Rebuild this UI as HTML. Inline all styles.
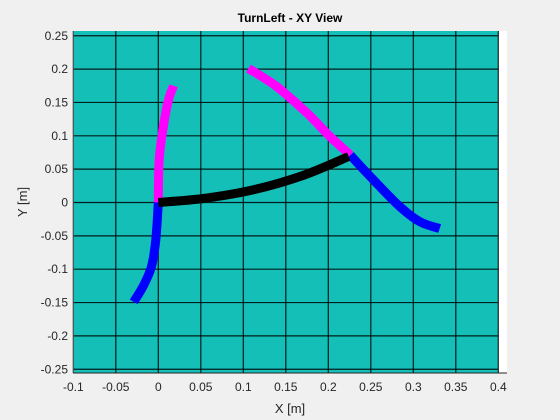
<!DOCTYPE html>
<html><head><meta charset="utf-8"><style>
body{margin:0;background:#f0f0f0;}
svg{display:block;font-family:"Liberation Sans",Arial,sans-serif;}
</style></head><body>
<svg id="chart" width="560" height="420">
<rect x="73" y="31" width="434" height="342" fill="#ffffff"/>
<rect x="73" y="31" width="425" height="342" fill="#14bfb8"/>
<g id="grid"></g>
<g id="series"></g>
<g id="ticks"></g>
<text x="290" y="22" text-anchor="middle" font-size="12" font-weight="bold" fill="#000">TurnLeft - XY View</text>
<text x="290" y="413" text-anchor="middle" font-size="13" fill="#262626">X [m]</text>
<text transform="translate(27,202) rotate(-90)" text-anchor="middle" font-size="13" fill="#262626">Y [m]</text>
</svg>
<script>
const xTicks=[-0.1,-0.05,0,0.05,0.1,0.15,0.2,0.25,0.3,0.35,0.4];
const xTickLabels=["-0.1","-0.05","0","0.05","0.1","0.15","0.2","0.25","0.3","0.35","0.4"];
const yTicks=[-0.25,-0.2,-0.15,-0.1,-0.05,0,0.05,0.1,0.15,0.2,0.25];
const yTickLabels=["-0.25","-0.2","-0.15","-0.1","-0.05","0","0.05","0.1","0.15","0.2","0.25"];
const leftUpX=[0,0.001,0.006,0.012,0.018];
const leftUpY=[0,0.064,0.114,0.154,0.175];
const leftDownX=[0,-0.003,-0.008,-0.018,-0.029];
const leftDownY=[0,-0.056,-0.096,-0.126,-0.149];
const rightUpX=[0.106,0.139,0.175,0.202,0.226];
const rightUpY=[0.201,0.174,0.134,0.099,0.071];
const rightDownX=[0.226,0.253,0.284,0.308,0.331];
const rightDownY=[0.071,0.034,-0.006,-0.029,-0.039];
const pathX=[0,0.053,0.112,0.171,0.224];
const pathY=[0,0.006,0.019,0.041,0.069];

const NS="http://www.w3.org/2000/svg";
const sx=v=>158.3+v*850;
const sy=v=>202.5-v*667;
function mk(tag,attrs,parent){const e=document.createElementNS(NS,tag);for(const k in attrs)e.setAttribute(k,attrs[k]);parent.appendChild(e);return e;}
const grid=document.getElementById('grid'),ticks=document.getElementById('ticks'),series=document.getElementById('series');
xTicks.forEach((t,i)=>{
  const l=mk('line',{x1:sx(t),x2:sx(t),y1:31,y2:373,stroke:'#000','stroke-width':1.2,'stroke-opacity':0.85},grid);
  
  
  const tx=mk('text',{x:sx(t),y:391,'text-anchor':'middle','font-size':12,fill:'#262626'},ticks);
  tx.textContent=xTickLabels[i];
  
  
});
yTicks.forEach((t,i)=>{
  const l=mk('line',{x1:73,x2:498,y1:sy(t),y2:sy(t),stroke:'#000','stroke-width':1.2,'stroke-opacity':0.85},grid);
  
  
  const tx=mk('text',{x:68,y:sy(t)+4,'text-anchor':'end','font-size':12,fill:'#262626'},ticks);
  tx.textContent=yTickLabels[i];
  
  
});
const ax1=mk('line',{x1:73,x2:73,y1:31,y2:373,stroke:'#808080','stroke-width':1},ticks);


const ax2=mk('line',{x1:73,x2:507,y1:373,y2:373,stroke:'#262626','stroke-width':1},ticks);


function draw(xs,ys,color,name){
  const P=xs.map((x,i)=>[sx(x),sy(ys[i])]);
  let d='M'+P[0][0].toFixed(1)+','+P[0][1].toFixed(1);
  for(let i=0;i<P.length-1;i++){
    const p0=P[Math.max(0,i-1)],p1=P[i],p2=P[i+1],p3=P[Math.min(P.length-1,i+2)];
    const c1=[p1[0]+(p2[0]-p0[0])/6,p1[1]+(p2[1]-p0[1])/6];
    const c2=[p2[0]-(p3[0]-p1[0])/6,p2[1]-(p3[1]-p1[1])/6];
    d+=' C'+c1.map(v=>v.toFixed(1)).join(',')+' '+c2.map(v=>v.toFixed(1)).join(',')+' '+p2.map(v=>v.toFixed(1)).join(',');
  }
  const p=mk('path',{d:d,fill:'none',stroke:color,'stroke-width':9},series);
  
  
}
draw(leftUpX,leftUpY,'#ff00ff','left-wheel-forward');
draw(leftDownX,leftDownY,'#0000ff','left-wheel-backward');
draw(rightUpX,rightUpY,'#ff00ff','right-wheel-forward');
draw(rightDownX,rightDownY,'#0000ff','right-wheel-backward');
draw(pathX,pathY,'#000000','robot-path');
</script>
</body></html>
